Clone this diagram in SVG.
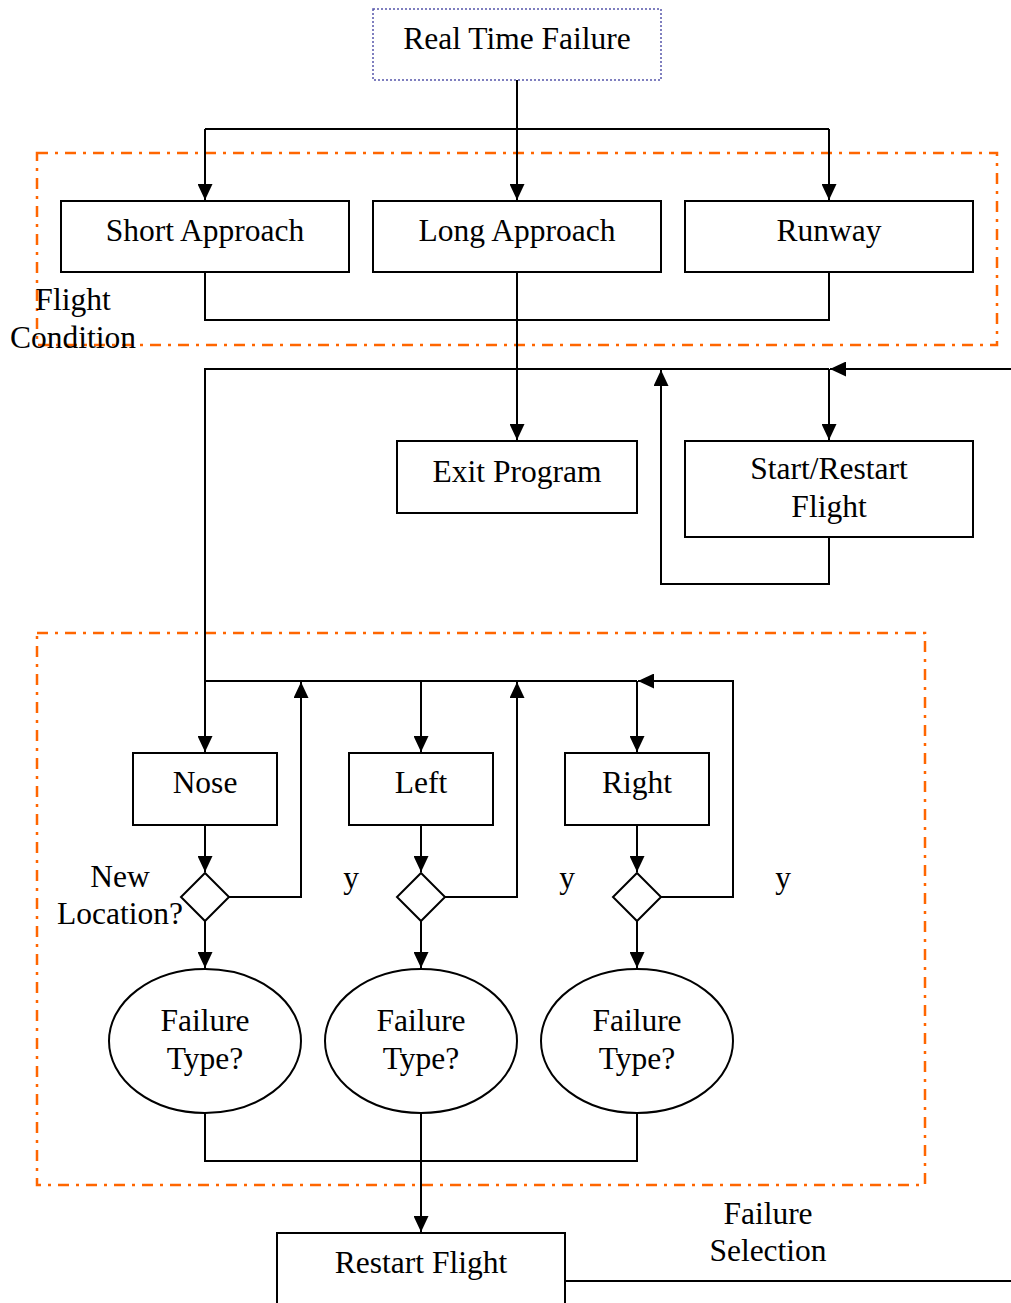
<svg xmlns="http://www.w3.org/2000/svg" width="1011" height="1303" viewBox="0 0 1011 1303">
<defs>
<marker id="arr" markerUnits="userSpaceOnUse" markerWidth="16" markerHeight="15" refX="16" refY="7.5" orient="auto" viewBox="0 0 16 15">
<path d="M0,0 L16,7.5 L0,15 z" fill="#000"/>
</marker>
<style>
.box{fill:#fff;stroke:#000;stroke-width:2}
.grp{fill:none;stroke:#ff6600;stroke-width:2.5;stroke-dasharray:11 7 3 7}
.c{fill:none;stroke:#000;stroke-width:2}
.a{marker-end:url(#arr)}
text{font-family:"Liberation Serif","Times New Roman",serif;font-size:31.5px;fill:#000;text-anchor:middle}
</style>
</defs>
<rect width="1011" height="1303" fill="#fff"/>
<g id="groups">
<rect class="grp" x="37" y="153" width="960" height="192"/>
<rect class="grp" x="37" y="633" width="888" height="552"/>
</g>
<g id="connectors">
<path class="c a" d="M517,80 V200"/>
<path class="c" d="M205,129 H829"/>
<path class="c a" d="M205,129 V200"/>
<path class="c a" d="M829,129 V200"/>
<path class="c" d="M205,272 V320 H829 V272"/>
<path class="c a" d="M517,272 V440"/>
<path class="c a" d="M1011,369 H830"/>
<path class="c a" d="M829,369 V440"/>
<path class="c a" d="M829,369 H205 V752"/>
<path class="c a" d="M829,537 V584 H661 V370"/>
<path class="c" d="M205,681 H637"/>
<path class="c a" d="M421,681 V752"/>
<path class="c a" d="M637,681 V752"/>
<path class="c a" d="M661,897 H733 V681 H638"/>
<path class="c a" d="M229,897 H301 V682"/>
<path class="c a" d="M445,897 H517 V682"/>
<path class="c a" d="M205,825 V872"/>
<path class="c a" d="M421,825 V872"/>
<path class="c a" d="M637,825 V872"/>
<path class="c a" d="M205,921 V968"/>
<path class="c a" d="M421,921 V968"/>
<path class="c a" d="M637,921 V968"/>
<path class="c" d="M205,1113 V1161 H637 V1113"/>
<path class="c a" d="M421,1113 V1232"/>
<path class="c" d="M565,1281 H1011"/>
</g>
<g id="n-realtime">
<rect x="373" y="9" width="288" height="71" fill="#fff" stroke="#5555aa" stroke-width="1.5" stroke-dasharray="2 2"/>
<text x="517" y="49">Real Time Failure</text>
</g>
<g id="n-short"><rect class="box" x="61" y="201" width="288" height="71"/><text x="205" y="241">Short Approach</text></g>
<g id="n-long"><rect class="box" x="373" y="201" width="288" height="71"/><text x="517" y="241">Long Approach</text></g>
<g id="n-runway"><rect class="box" x="685" y="201" width="288" height="71"/><text x="829" y="241">Runway</text></g>
<g id="l-flight"><text x="73" y="310">Flight</text><text x="73" y="348">Condition</text></g>
<g id="n-exit"><rect class="box" x="397" y="441" width="240" height="72"/><text x="517" y="482">Exit Program</text></g>
<g id="n-start"><rect class="box" x="685" y="441" width="288" height="96"/><text x="829" y="479">Start/Restart</text><text x="829" y="517">Flight</text></g>
<g id="n-nose"><rect class="box" x="133" y="753" width="144" height="72"/><text x="205" y="793">Nose</text></g>
<g id="n-left"><rect class="box" x="349" y="753" width="144" height="72"/><text x="421" y="793">Left</text></g>
<g id="n-right"><rect class="box" x="565" y="753" width="144" height="72"/><text x="637" y="793">Right</text></g>
<g id="d-nose"><path class="box" d="M205,873 L229,897 L205,921 L181,897 z"/></g>
<g id="d-left"><path class="box" d="M421,873 L445,897 L421,921 L397,897 z"/></g>
<g id="d-right"><path class="box" d="M637,873 L661,897 L637,921 L613,897 z"/></g>
<g id="l-newloc"><text x="120" y="887">New</text><text x="120" y="924">Location?</text></g>
<g id="l-y"><text x="351" y="888">y</text><text x="567" y="888">y</text><text x="783" y="888">y</text></g>
<g id="e-nose"><ellipse class="box" cx="205" cy="1041" rx="96" ry="72"/><text x="205" y="1031">Failure</text><text x="205" y="1069">Type?</text></g>
<g id="e-left"><ellipse class="box" cx="421" cy="1041" rx="96" ry="72"/><text x="421" y="1031">Failure</text><text x="421" y="1069">Type?</text></g>
<g id="e-right"><ellipse class="box" cx="637" cy="1041" rx="96" ry="72"/><text x="637" y="1031">Failure</text><text x="637" y="1069">Type?</text></g>
<g id="n-restart"><rect class="box" x="277" y="1233" width="288" height="80"/><text x="421" y="1273">Restart Flight</text></g>
<g id="l-failsel"><text x="768" y="1224">Failure</text><text x="768" y="1261">Selection</text></g>
</svg>
